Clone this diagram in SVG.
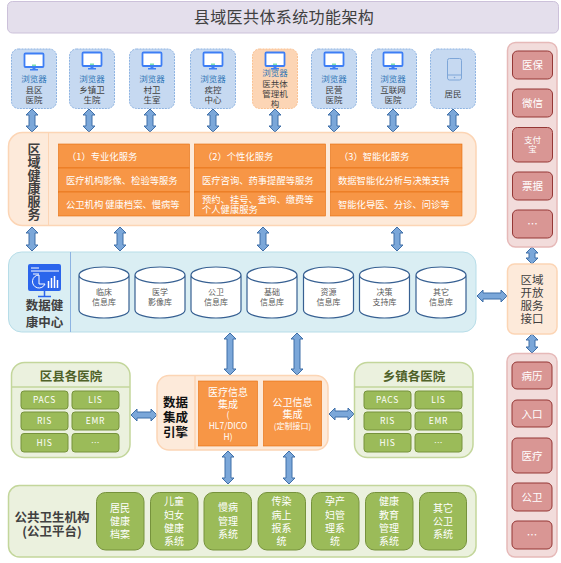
<svg xmlns="http://www.w3.org/2000/svg" xmlns:xlink="http://www.w3.org/1999/xlink" width="561" height="563" viewBox="0 0 561 563">
<style>
text{font-family:"Noto Sans CJK SC","Microsoft YaHei","Liberation Sans",sans-serif;text-anchor:middle}
.arrow{fill:#7ba7d9;stroke:#3f6fa8;stroke-width:1}
.browser{fill:#c6d9f1;stroke:#8db3e2;stroke-width:1;stroke-dasharray:2 1}
.browserO{fill:#fcd5b5;stroke:#fac090;stroke-width:1;stroke-dasharray:2 1}
.bl{font-size:8.5px;fill:#2e75b6}
.lb{font-size:8.5px;fill:#404040}
.peach{fill:#fdeada;stroke:#fcd5b5;stroke-width:1.5}
.or{fill:#f79646;stroke:#e46c0a;stroke-width:.6}
.owl{font-size:9.3px;fill:#fff;text-anchor:start}
.cy{fill:#fff;stroke:#376092;stroke-width:1.2}
.cyt{font-size:8px;fill:#595959}
.red{fill:#d99694;stroke:#953735;stroke-width:1}
.redc{fill:#f2dcdb;stroke:#e6b9b8;stroke-width:1.5}
.rt{font-size:10.5px;fill:#fff}
.gc{fill:#ebf1de;stroke:#c3d69b;stroke-width:1.5}
.g{fill:#9bbb59;stroke:#76923c;stroke-width:1}
.gt{font-size:8.5px;fill:#fff;letter-spacing:.7px}
.gp{font-size:10px;fill:#fff}
.h{font-size:12.5px;font-weight:700;fill:#404040}
.hg{font-size:12.5px;font-weight:700;fill:#4f6128}
</style>
<defs>
<g id="mon">
<rect x="-9.5" y="0" width="19" height="13.500" rx="1" fill="#fff" stroke="#3d7ef5" stroke-width="1.800"/>
<rect x="-2" y="11" width="4" height="1.500" fill="#7fe0b0"/>
<rect x="-1.500" y="14" width="3" height="1.800" fill="#3d7ef5"/>
<rect x="-4" y="15.500" width="8" height="1.500" fill="#3d7ef5"/>
</g>
</defs>

<g id="title">
<rect x="7.500" y="1.500" width="551" height="31.500" rx="5" fill="#e4dfec" stroke="#ccc1da" stroke-width="1"/>
<text x="284" y="23" font-size="16" letter-spacing=".4" fill="#404040">县域医共体系统功能架构</text>
</g>

<g id="connectors">
<path class="arrow" d="M32 109l6 6h-3v11h3l-6 6-6-6h3v-11h-3z"/>
<path class="arrow" d="M89 109l6 6h-3v11h3l-6 6-6-6h3v-11h-3z"/>
<path class="arrow" d="M150 109l6 6h-3v11h3l-6 6-6-6h3v-11h-3z"/>
<path class="arrow" d="M213 109l6 6h-3v11h3l-6 6-6-6h3v-11h-3z"/>
<path class="arrow" d="M275 109l6 6h-3v11h3l-6 6-6-6h3v-11h-3z"/>
<path class="arrow" d="M334 109l6 6h-3v11h3l-6 6-6-6h3v-11h-3z"/>
<path class="arrow" d="M393 109l6 6h-3v11h3l-6 6-6-6h3v-11h-3z"/>
<path class="arrow" d="M453 109l6 6h-3v11h3l-6 6-6-6h3v-11h-3z"/>
<path class="arrow" d="M32 227l6 6h-3v12h3l-6 6-6-6h3v-12h-3z"/>
<path class="arrow" d="M120 227l6 6h-3v12h3l-6 6-6-6h3v-12h-3z"/>
<path class="arrow" d="M263 227l6 6h-3v12h3l-6 6-6-6h3v-12h-3z"/>
<path class="arrow" d="M397 227l6 6h-3v12h3l-6 6-6-6h3v-12h-3z"/>
<path class="arrow" d="M532 247l6 6h-3v5h3l-6 6-6-6h3v-5h-3z"/>
<path class="arrow" d="M532 334l6 6h-3v7h3l-6 6-6-6h3v-7h-3z"/>
<path class="arrow" d="M477 296l6-6v3h18v-3l6 6-6 6v-3h-18v3z"/>
<path class="arrow" d="M230 333l6 6h-3v30h3l-6 6-6-6h3v-30h-3z"/>
<path class="arrow" d="M297 333l6 6h-3v30h3l-6 6-6-6h3v-30h-3z"/>
<path class="arrow" d="M228 451l6 6h-3v21h3l-6 6-6-6h3v-21h-3z"/>
<path class="arrow" d="M289 451l6 6h-3v21h3l-6 6-6-6h3v-21h-3z"/>
<path class="arrow" d="M131 415l6-6v3h14v-3l6 6-6 6v-3h-14v3z"/>
<path class="arrow" d="M329 414l6-6v3h13v-3l6 6-6 6v-3h-13v3z"/>
</g>

<g id="node-county"><rect class="browser" x="11.500" y="49" width="45" height="59.500" rx="7"/><use xlink:href="#mon" href="#mon" x="34" y="53.500"/><text class="bl" x="34" y="82">浏览器</text><text class="lb" x="34" y="92.500">县区</text><text class="lb" x="34" y="102.500">医院</text></g>
<g id="node-town"><rect class="browser" x="69.500" y="49" width="45" height="59.500" rx="7"/><use xlink:href="#mon" href="#mon" x="92" y="52.500"/><text class="bl" x="92" y="82">浏览器</text><text class="lb" x="92" y="92.500">乡镇卫</text><text class="lb" x="92" y="102.500">生院</text></g>
<g id="node-village"><rect class="browser" x="129.500" y="49" width="45" height="59.500" rx="7"/><use xlink:href="#mon" href="#mon" x="152" y="52.500"/><text class="bl" x="152" y="82">浏览器</text><text class="lb" x="152" y="92.500">村卫</text><text class="lb" x="152" y="102.500">生室</text></g>
<g id="node-cdc"><rect class="browser" x="190.500" y="49" width="45" height="59.500" rx="7"/><use xlink:href="#mon" href="#mon" x="213" y="52.500"/><text class="bl" x="213" y="82">浏览器</text><text class="lb" x="213" y="92.500">疾控</text><text class="lb" x="213" y="102.500">中心</text></g>
<g id="node-admin"><rect class="browserO" x="252.500" y="49" width="45" height="59.500" rx="7"/><use xlink:href="#mon" href="#mon" x="275" y="52.500"/><text class="bl" x="275" y="76">浏览器</text><text class="lb" x="275" y="87">医共体</text><text class="lb" x="275" y="97">管理机</text><text class="lb" x="275" y="107">构</text></g>
<g id="node-private"><rect class="browser" x="311.500" y="49" width="45" height="59.500" rx="7"/><use xlink:href="#mon" href="#mon" x="334" y="52.500"/><text class="bl" x="334" y="82">浏览器</text><text class="lb" x="334" y="92.500">民营</text><text class="lb" x="334" y="102.500">医院</text></g>
<g id="node-internet"><rect class="browser" x="371.500" y="49" width="45" height="59.500" rx="7"/><use xlink:href="#mon" href="#mon" x="393" y="52.500"/><text class="bl" x="393" y="82">浏览器</text><text class="lb" x="393" y="92.500">互联网</text><text class="lb" x="393" y="102.500">医院</text></g>
<g id="node-resident"><rect class="browser" x="430.500" y="49" width="45" height="59.500" rx="7"/><rect x="447.500" y="58.500" width="14" height="21.500" rx="2" fill="#c6d9f1" stroke="#7ea6d8" stroke-width="1"/><path d="M447.500 75h14" stroke="#7ea6d8" fill="none"/><circle cx="454.500" cy="77.500" r=".8" fill="#7ea6d8"/><text class="lb" x="453" y="97">居民</text></g>

<g id="node-regional">
<rect class="peach" x="8.500" y="132.500" width="467.500" height="93" rx="14"/>
<path d="M48.500 132.500v93" stroke="#fcd5b5" stroke-width="1" fill="none"/>
<text class="h" style="font-size:13px"><tspan x="34" y="154">区</tspan><tspan x="34" y="167">域</tspan><tspan x="34" y="180">健</tspan><tspan x="34" y="193">康</tspan><tspan x="34" y="206">服</tspan><tspan x="34" y="219">务</tspan></text>
<rect class="or" x="58.500" y="144" width="131" height="24"/><rect class="or" x="58.500" y="168" width="131" height="24"/><rect class="or" x="58.500" y="192" width="131" height="24"/>
<rect class="or" x="194.500" y="144" width="131" height="24"/><rect class="or" x="194.500" y="168" width="131" height="24"/><rect class="or" x="194.500" y="192" width="131" height="24"/>
<rect class="or" x="330.500" y="144" width="131.500" height="24"/><rect class="or" x="330.500" y="168" width="131.500" height="24"/><rect class="or" x="330.500" y="192" width="131.500" height="24"/>
<text class="owl" x="67" y="160">（1）专业化服务</text>
<text class="owl" x="66" y="184">医疗机构影像、检验等服务</text>
<text class="owl" x="66" y="208">公卫机构 健康档案、慢病等</text>
<text class="owl" x="203" y="160">（2）个性化服务</text>
<text class="owl" x="202" y="184">医疗咨询、药事提醒等服务</text>
<text class="owl" x="202" y="203">预约、挂号、查询、缴费等</text>
<text class="owl" x="202" y="213">个人健康服务</text>
<text class="owl" x="339" y="160">（3）智能化服务</text>
<text class="owl" x="338" y="184">数据智能化分析与决策支持</text>
<text class="owl" x="338" y="208">智能化导医、分诊、问诊等</text>
</g>

<g id="node-datacenter">
<rect x="8.500" y="252" width="467.500" height="80" rx="13" fill="#daeef3" stroke="#b7dde8" stroke-width="1"/>
<path d="M70.500 252v80" stroke="#8db3e2" stroke-width="1" fill="none"/>
<rect x="28" y="264" width="33" height="27" rx="2" fill="#2b65ec"/>
<path d="M44.500 291v5M38 296.500h13" stroke="#2b65ec" stroke-width="1.500" fill="none"/>
<path d="M31 268h8M31 271h28M33 274h6" stroke="#fff" stroke-width="1" fill="none"/>
<path d="M39 275a6.500 6.500 0 1 0 6 9h-6z" fill="none" stroke="#fff" stroke-width="1"/>
<path d="M48.500 288v-7M51.500 288v-10M54.500 288v-12M57.500 288v-8" stroke="#fff" stroke-width="1.500" fill="none"/>
<text class="h"><tspan x="44.500" y="310">数据健</tspan><tspan x="44.500" y="327">康中心</tspan></text>
</g>

<g id="db-1"><path class="cy" d="M79 275v35a25 8 0 0 0 50 0v-35a25 8 0 0 0-50 0a25 8 0 0 0 50 0"/><text class="cyt" x="104" y="295">临床</text><text class="cyt" x="104" y="305">信息库</text></g>
<g id="db-2"><path class="cy" d="M135 275v35a25 8 0 0 0 50 0v-35a25 8 0 0 0-50 0a25 8 0 0 0 50 0"/><text class="cyt" x="160" y="295">医学</text><text class="cyt" x="160" y="305">影像库</text></g>
<g id="db-3"><path class="cy" d="M191 275v35a25 8 0 0 0 50 0v-35a25 8 0 0 0-50 0a25 8 0 0 0 50 0"/><text class="cyt" x="216" y="295">公卫</text><text class="cyt" x="216" y="305">信息库</text></g>
<g id="db-4"><path class="cy" d="M247 275v35a25 8 0 0 0 50 0v-35a25 8 0 0 0-50 0a25 8 0 0 0 50 0"/><text class="cyt" x="272" y="295">基础</text><text class="cyt" x="272" y="305">信息库</text></g>
<g id="db-5"><path class="cy" d="M303.500 275v35a25 8 0 0 0 50 0v-35a25 8 0 0 0-50 0a25 8 0 0 0 50 0"/><text class="cyt" x="328.500" y="295">资源</text><text class="cyt" x="328.500" y="305">信息库</text></g>
<g id="db-6"><path class="cy" d="M359.500 275v35a25 8 0 0 0 50 0v-35a25 8 0 0 0-50 0a25 8 0 0 0 50 0"/><text class="cyt" x="384.500" y="295">决策</text><text class="cyt" x="384.500" y="305">支持库</text></g>
<g id="db-7"><path class="cy" d="M416 275v35a25 8 0 0 0 50 0v-35a25 8 0 0 0-50 0a25 8 0 0 0 50 0"/><text class="cyt" x="441" y="295">其它</text><text class="cyt" x="441" y="305">信息库</text></g>

<g id="node-pay">
<rect class="redc" x="507.500" y="42.500" width="49.500" height="204.500" rx="8"/>
<rect class="red" x="512.500" y="51" width="40" height="28" rx="5"/><text class="rt" x="532.500" y="69">医保</text>
<rect class="red" x="512.500" y="89" width="40" height="28" rx="5"/><text class="rt" x="532.500" y="107">微信</text>
<rect class="red" x="512.500" y="127.500" width="40" height="34.500" rx="5"/><text class="rt" style="font-size:8.500px" x="532.500" y="143">支付</text><text class="rt" style="font-size:8.500px" x="532.500" y="152">宝</text>
<rect class="red" x="512.500" y="172" width="40" height="28" rx="5"/><text class="rt" x="532.500" y="190">票据</text>
<rect class="red" x="512.500" y="210" width="40" height="28" rx="5"/><text class="rt" x="532.500" y="228">…</text>
</g>

<g id="node-interface">
<rect class="peach" x="507.500" y="264" width="49.500" height="70" rx="7"/>
<text style="font-size:11.500px" fill="#404040"><tspan x="532" y="284">区域</tspan><tspan x="532" y="297">开放</tspan><tspan x="532" y="310">服务</tspan><tspan x="532" y="323">接口</tspan></text>
</g>

<g id="node-records">
<rect class="redc" x="507" y="353.500" width="50" height="203.500" rx="8"/>
<rect class="red" x="512" y="362" width="40" height="27" rx="5"/><text class="rt" x="532" y="379.500">病历</text>
<rect class="red" x="512" y="400" width="40" height="27" rx="5"/><text class="rt" x="532" y="417.500">入口</text>
<rect class="red" x="512" y="438" width="40" height="35" rx="5"/><text class="rt" x="532" y="459.500">医疗</text>
<rect class="red" x="512" y="483" width="40" height="28" rx="5"/><text class="rt" x="532" y="501">公卫</text>
<rect class="red" x="512" y="521" width="40" height="28" rx="5"/><text class="rt" x="532" y="539">…</text>
</g>

<g id="node-county-hospitals">
<rect class="gc" x="11.500" y="362.500" width="118.500" height="95" rx="13"/>
<path d="M11.500 387h118.500" stroke="#c3d69b" stroke-width="1.500" fill="none"/>
<text class="hg" x="71" y="381">区县各医院</text>
<rect class="g" x="21" y="391" width="47" height="18" rx="3"/><text class="gt" x="44.500" y="403">PACS</text>
<rect class="g" x="72" y="391" width="47" height="18" rx="3"/><text class="gt" x="95.500" y="403">LIS</text>
<rect class="g" x="21" y="412" width="47" height="18" rx="3"/><text class="gt" x="44.500" y="424">RIS</text>
<rect class="g" x="72" y="412" width="47" height="18" rx="3"/><text class="gt" x="95.500" y="424">EMR</text>
<rect class="g" x="21" y="433.500" width="47" height="18.500" rx="3"/><text class="gt" x="44.500" y="445.500">HIS</text>
<rect class="g" x="72" y="433.500" width="47" height="18.500" rx="3"/><text class="gt" x="95.500" y="445.500">…</text>
</g>

<g id="node-town-hospitals">
<rect class="gc" x="354.500" y="362.500" width="118.500" height="95" rx="13"/>
<path d="M354.500 387h118.500" stroke="#c3d69b" stroke-width="1.500" fill="none"/>
<text class="hg" x="414" y="381">乡镇各医院</text>
<rect class="g" x="364" y="391" width="47" height="18" rx="3"/><text class="gt" x="387.500" y="403">PACS</text>
<rect class="g" x="415" y="391" width="47" height="18" rx="3"/><text class="gt" x="438.500" y="403">LIS</text>
<rect class="g" x="364" y="412" width="47" height="18" rx="3"/><text class="gt" x="387.500" y="424">RIS</text>
<rect class="g" x="415" y="412" width="47" height="18" rx="3"/><text class="gt" x="438.500" y="424">EMR</text>
<rect class="g" x="364" y="433.500" width="47" height="18.500" rx="3"/><text class="gt" x="387.500" y="445.500">HIS</text>
<rect class="g" x="415" y="433.500" width="47" height="18.500" rx="3"/><text class="gt" x="438.500" y="445.500">…</text>
</g>

<g id="node-integration">
<rect class="peach" x="157" y="375.500" width="171" height="74.500" rx="12"/>
<path d="M195 375.500v74.500" stroke="#fcd5b5" stroke-width="1.500" fill="none"/>
<text style="font-size:12.500px;font-weight:700" fill="#111"><tspan x="175.500" y="407">数据</tspan><tspan x="175.500" y="422">集成</tspan><tspan x="175.500" y="437">引擎</tspan></text>
<rect class="or" x="198.500" y="381" width="59" height="65"/>
<rect class="or" x="263.500" y="381" width="58" height="65"/>
<g fill="#fff"><text style="font-size:10px"><tspan x="228" y="396">医疗信息</tspan><tspan x="228" y="408">集成</tspan></text>
<text style="font-size:8.500px"><tspan x="228" y="417.500">(</tspan><tspan x="228" y="429">HL7/DICO</tspan><tspan x="228" y="439.500">H)</tspan></text>
<text style="font-size:10px"><tspan x="292.500" y="406">公卫信息</tspan><tspan x="292.500" y="418">集成</tspan></text>
<text style="font-size:8px" x="292.500" y="429">(定制接口)</text></g>
</g>

<g id="node-public">
<rect class="gc" x="8.500" y="485.500" width="467.500" height="71.500" rx="11"/>
<text class="h"><tspan x="52" y="521.500">公共卫生机构</tspan><tspan x="52" y="536">(公卫平台)</tspan></text>
<rect class="g" x="96.500" y="492.500" width="47.500" height="57.500" rx="9"/><text class="gp"><tspan x="120" y="512">居民</tspan><tspan x="120" y="525">健康</tspan><tspan x="120" y="538">档案</tspan></text>
<rect class="g" x="150.500" y="492.500" width="47.500" height="57.500" rx="9"/><text class="gp"><tspan x="174" y="505">儿童</tspan><tspan x="174" y="519">妇女</tspan><tspan x="174" y="531.500">健康</tspan><tspan x="174" y="545">系统</tspan></text>
<rect class="g" x="204" y="492.500" width="47.500" height="57.500" rx="9"/><text class="gp"><tspan x="228" y="511">慢病</tspan><tspan x="228" y="525">管理</tspan><tspan x="228" y="538">系统</tspan></text>
<rect class="g" x="258" y="492.500" width="47.500" height="57.500" rx="9"/><text class="gp"><tspan x="281.500" y="505">传染</tspan><tspan x="281.500" y="519">病上</tspan><tspan x="281.500" y="531.500">报系</tspan><tspan x="281.500" y="545">统</tspan></text>
<rect class="g" x="311.500" y="492.500" width="47.500" height="57.500" rx="9"/><text class="gp"><tspan x="335" y="505">孕产</tspan><tspan x="335" y="519">妇管</tspan><tspan x="335" y="531.500">理系</tspan><tspan x="335" y="545">统</tspan></text>
<rect class="g" x="365.500" y="492.500" width="47.500" height="57.500" rx="9"/><text class="gp"><tspan x="389" y="505">健康</tspan><tspan x="389" y="519">教育</tspan><tspan x="389" y="531.500">管理</tspan><tspan x="389" y="545">系统</tspan></text>
<rect class="g" x="419.500" y="492.500" width="47" height="57.500" rx="9"/><text class="gp"><tspan x="443" y="512">其它</tspan><tspan x="443" y="525">公卫</tspan><tspan x="443" y="538">系统</tspan></text>
</g>
</svg>
